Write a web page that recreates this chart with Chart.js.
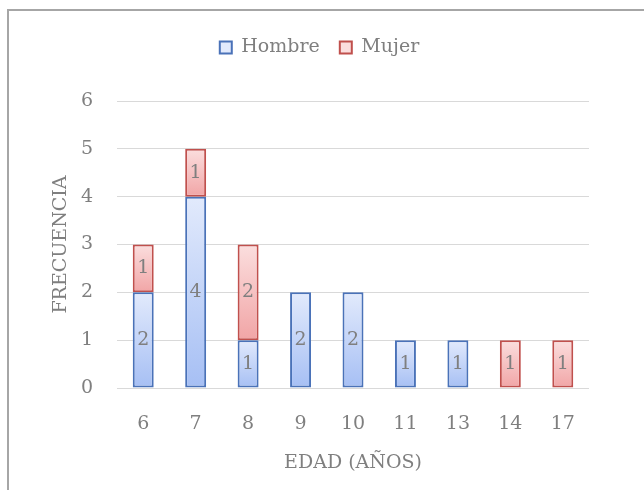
<!DOCTYPE html>
<html>
<head>
<meta charset="utf-8">
<script src="https://cdn.jsdelivr.net/npm/chart.js@4.4.1/dist/chart.umd.min.js"></script>
<style>
  html, body { margin: 0; padding: 0; background: #fff; }
  #wrap { position: relative; width: 644px; height: 490px; }
  #frame {
    position: absolute; left: 7px; top: 9px; width: 700px; height: 600px;
    border-left: 2px solid #a6a6a6; border-top: 2px solid #a6a6a6;
    pointer-events: none;
  }
</style>
</head>
<body>
<div id="wrap">
  <canvas id="chart" width="644" height="490"></canvas>
  <div id="frame"></div>
</div>
<script>
const edades = ["6", "7", "8", "9", "10", "11", "13", "14", "17"];
const hombre = [2, 4, 1, 2, 2, 1, 1, 0, 0];
const mujer = [1, 1, 2, 0, 0, 0, 0, 1, 1];

const FONT = "'DejaVu Serif', serif";
const GRIS = "#7f7f7f";

// degradado vertical por cada segmento de la barra (claro arriba, oscuro abajo)
function segmentGradient(context, top, bottom, solid) {
  if (context.type !== "data") return solid;
  const chart = context.chart;
  const yScale = chart.scales.y;
  if (!chart.chartArea || !yScale) return solid;
  const i = context.dataIndex;
  const start = context.datasetIndex === 0 ? 0 : hombre[i];
  const end = start + (context.datasetIndex === 0 ? hombre[i] : mujer[i]);
  const y0 = yScale.getPixelForValue(start);
  const y1 = yScale.getPixelForValue(end);
  if (!isFinite(y0) || !isFinite(y1) || y0 === y1) return solid;
  const g = chart.ctx.createLinearGradient(0, y1, 0, y0);
  g.addColorStop(0, top);
  g.addColorStop(1, bottom);
  return g;
}

const valueLabels = {
  id: "valueLabels",
  afterDatasetsDraw(chart) {
    const ctx = chart.ctx;
    ctx.save();
    ctx.font = "19px " + FONT;
    ctx.fillStyle = GRIS;
    ctx.textAlign = "center";
    ctx.textBaseline = "middle";
    chart.data.datasets.forEach((ds, di) => {
      const meta = chart.getDatasetMeta(di);
      meta.data.forEach((bar, i) => {
        const v = ds.data[i];
        if (!v) return;
        ctx.fillText(String(v), bar.x, (bar.y + bar.base) / 2);
      });
    });
    ctx.restore();
  },
};

const legendSpace = {
  id: "legendSpace",
  beforeInit(chart) {
    const fit = chart.legend.fit;
    chart.legend.fit = function () {
      fit.bind(chart.legend)();
      this.height += 34;
    };
  },
};

Chart.defaults.font.family = FONT;
Chart.defaults.color = GRIS;

new Chart(document.getElementById("chart"), {
  type: "bar",
  data: {
    labels: edades,
    datasets: [
      {
        label: "Hombre",
        data: hombre,
        backgroundColor: (c) => segmentGradient(c, "#e2eafc", "#a6bff4", "#c3d4f8"),
        borderColor: "#4a72b8",
        borderWidth: 2,
        borderSkipped: false,
      },
      {
        label: "Mujer",
        data: mujer,
        backgroundColor: (c) => segmentGradient(c, "#fbdede", "#f1a5a6", "#f6c1c2"),
        borderColor: "#c0504d",
        borderWidth: 2,
        borderSkipped: false,
      },
    ],
  },
  options: {
    responsive: false,
    animation: false,
    layout: { padding: { left: 50, right: 55, top: 18, bottom: 16 } },
    datasets: { bar: { barPercentage: 0.4, categoryPercentage: 1 } },
    plugins: {
      legend: {
        position: "top",
        labels: {
          boxWidth: 12,
          boxHeight: 12,
          padding: 20,
          color: GRIS,
          font: { size: 19, family: FONT },
        },
      },
      tooltip: { enabled: false },
    },
    scales: {
      x: {
        stacked: true,
        grid: { display: false },
        border: { display: false },
        ticks: { padding: 17, color: GRIS, font: { size: 19, family: FONT } },
        title: {
          display: true,
          text: "EDAD (AÑOS)",
          color: GRIS,
          padding: { top: 12, bottom: 0 },
          font: { size: 19, family: FONT },
        },
        afterFit(scale) { scale.height = 86; },
      },
      y: {
        stacked: true,
        min: 0,
        max: 6,
        grid: { color: "#d9d9d9", lineWidth: 1, drawTicks: false },
        border: { display: false },
        ticks: { stepSize: 1, padding: 24, color: GRIS, font: { size: 19, family: FONT } },
        title: {
          display: true,
          text: "FRECUENCIA",
          color: GRIS,
          padding: { top: 0, bottom: 8 },
          font: { size: 19, family: FONT },
        },
        afterFit(scale) { scale.width = 67; },
      },
    },
  },
  plugins: [valueLabels, legendSpace],
});
</script>
</body>
</html>
